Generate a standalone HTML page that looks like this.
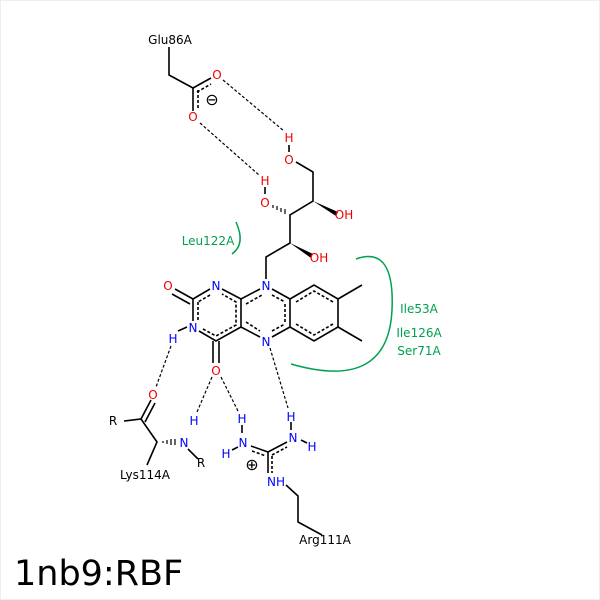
<!DOCTYPE html>
<html><head><style>
html,body{margin:0;padding:0;background:#fff}
svg{display:block}
text{font-family:"DejaVu Sans","Liberation Sans",sans-serif;font-size:12px}
</style></head><body>
<svg width="600" height="600" viewBox="0 0 600 600" xmlns="http://www.w3.org/2000/svg">
<rect x="0.5" y="0.5" width="599" height="599" fill="#fff" stroke="#eee"/>
<g stroke="#000" stroke-width="1.6" fill="none">
<path d="M169 47 L169 75 L193 88"/>
<path d="M193 88 L211 78"/><path d="M197 92 L211 84" stroke-dasharray="3,2"/>
<path d="M193 88 L193 111"/><path d="M198 90 L198 110" stroke-dasharray="3,2"/>
<path d="M296 162 L313 172 L313 201 L290 215 L290 243 L266 257 L266 279"/>
<path d="M260 289 L241 299 L222 289"/>
<path d="M210 289 L193 299 L193 321"/>
<path d="M199 331 L216 341 L241 327 L241 299"/>
<path d="M241 327 L260 337"/>
<path d="M272 337 L290 327 L290 299 L272 289"/>
<path d="M290 299 L314 285 L338 299 L338 327 L314 341 L290 327"/>
<path d="M338 299 L362 285"/><path d="M338 327 L362 341"/>
<path d="M193 299 L175 289"/><path d="M190 304 L172 294"/>
<path d="M213 341 L213 363"/><path d="M219 341 L219 363"/>
<g stroke-dasharray="3,2">
<path d="M198 302 L198 320"/><path d="M210 295 L198 302"/>
<path d="M203 329 L216 336 L236 325 L236 302 L222 294"/>
<path d="M246 304 L262 295"/><path d="M246 322 L260 331"/>
<path d="M285 304 L285 322"/><path d="M272 295 L285 302"/><path d="M272 331 L285 324"/>
<path d="M296 302 L314 291 L333 302 M333 324 L314 335 L296 324"/>
</g>
<path d="M124 421 L141 419 L157 442 L147 465"/>
<path d="M141 419 L151 400"/><path d="M145 422 L155 403"/>
<path d="M188 449 L198 459"/>
<path d="M251 446 L268 452 L287 442"/>
<path d="M268 452 L268 473"/>
<path d="M252 451 L266 456" stroke-dasharray="3,2"/>
<path d="M272 455 L287 447" stroke-dasharray="3,2"/>
<path d="M272 456 L272 473" stroke-dasharray="3,2"/>
<path d="M286 485 L298 496 L298 522 L322 535"/>
<path d="M232 450 L238 447"/><path d="M242 425 L242 433"/>
<path d="M301 440 L307 443"/><path d="M291 422 L291 430"/>
<path d="M178 331 L187 327"/><path d="M289 145 L289 152"/><path d="M265 187 L265 194"/>
</g>
<polygon points="313,201 338,212 336,216" fill="#000"/>
<polygon points="290,243 313,254 311,258" fill="#000"/>
<g stroke="#000" stroke-width="1.2">
<path d="M273 205 L273 208 M277 206 L277 210 M281 208 L281 212 M285 209 L285 214"/>
<path d="M163 441 L163 443 M167 440 L167 444 M171 439 L171 445 M175 439 L175 445"/>
</g>
<g stroke="#000" stroke-width="1.2" stroke-dasharray="3,2" fill="none">
<path d="M223 80 L284 131"/><path d="M200 123 L259 175"/>
<path d="M171 346 L156 387"/><path d="M212 377 L197 412"/>
<path d="M221 377 L238 411"/><path d="M270 348 L288 408"/>
</g>
<g stroke="#00a050" stroke-width="1.5" fill="none">
<path d="M236 222 Q246 244 232 254"/>
<path d="M356 259 Q395 245 392 310 Q388 392 291 364"/>
</g>
<g fill="#e00" text-anchor="middle">
<text x="217" y="79">O</text><text x="193" y="121">O</text>
<text x="289" y="142">H</text><text x="289" y="164">O</text>
<text x="265" y="185">H</text><text x="265" y="207">O</text>
<text x="344" y="219">OH</text><text x="319" y="262">OH</text>
<text x="168" y="290">O</text><text x="216" y="375">O</text>
<text x="153" y="399">O</text>
</g>
<g fill="#00f" text-anchor="middle">
<text x="216" y="290">N</text><text x="266" y="290">N</text>
<text x="193" y="332">N</text><text x="266" y="346">N</text>
<text x="173" y="343">H</text>
<text x="194" y="425">H</text><text x="184" y="447">N</text>
<text x="242" y="423">H</text><text x="243" y="447">N</text><text x="226" y="458">H</text>
<text x="291" y="421">H</text><text x="293" y="442">N</text><text x="312" y="451">H</text>
<text x="276" y="486">NH</text>
</g>
<g fill="#000" text-anchor="middle">
<text x="170" y="44">Glu86A</text>
<text x="212" y="105" style="font-size:16px">⊖</text>
<text x="113" y="425">R</text><text x="201" y="467">R</text>
<text x="145" y="479">Lys114A</text>
<text x="252" y="470" style="font-size:16px">⊕</text>
<text x="325" y="544">Arg111A</text>
</g>
<g fill="#00a050" text-anchor="middle">
<text x="208" y="245">Leu122A</text>
<text x="419" y="313">Ile53A</text>
<text x="419" y="337">Ile126A</text>
<text x="419" y="355">Ser71A</text>
</g>
<text x="14" y="585" style="font-size:35px">1nb9:RBF</text>
</svg>
</body></html>
